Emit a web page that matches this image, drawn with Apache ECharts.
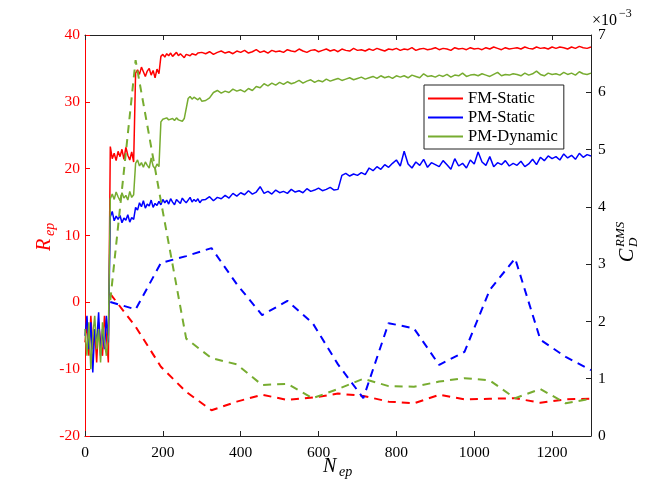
<!DOCTYPE html>
<html><head><meta charset="utf-8">
<script src="https://cdn.jsdelivr.net/npm/echarts@6/dist/echarts.min.js"></script>
<style>html,body{margin:0;padding:0;background:#fff}#c{width:654px;height:491px}</style>
</head><body><div id="c"></div>
<script>
// Episode numbers for the reward curves
const episodes = [
  0,5,10,15,20,25,30,35,40,45,50,55,60,
  65,70,75,80,85,90,95,100,105,110,115,120,125,
  130,135,140,145,150,155,160,165,170,175,180,185,190,
  195,200,205,210,215,220,225,230,235,240,245,250,255,260,265,270,275,280,285,290,295,300,
  310,320,330,340,350,360,370,380,390,400,
  410,420,430,440,450,460,470,480,490,500,
  510,520,530,540,550,560,570,580,590,600,
  610,620,630,640,650,660,670,680,690,700,
  710,720,730,740,750,760,770,780,790,800,
  810,820,830,840,850,860,870,880,890,900,
  910,920,930,940,950,960,970,980,990,1000,
  1010,1020,1030,1040,1050,1060,1070,1080,1090,1100,
  1110,1120,1130,1140,1150,1160,1170,1180,1190,1200,
  1210,1220,1230,1240,1250,1260,1270,1280,1290,1300
];
// Reward R_ep
const fmStatic = [
  -6,-3,-8,-2,-7,-4,-9,-3,-6,-8,-2,-5,-9,
  23.3,21.5,22.3,21.2,22.6,21.8,22.9,21.4,23.2,22.0,21.3,22.5,21.0,
  34.3,34.8,34.1,35.2,34.5,33.8,34.6,35.0,34.0,34.7,33.6,34.9,34.2,
  36.8,37.1,36.7,37.2,36.9,37.3,36.8,37.0,37.4,36.9,37.2,37.0,36.6,37.1,37.3,36.9,37.2,37.4,37.0,37.3,37.1,37.4,
  37.2,37.5,37.1,37.4,37.6,37.3,37.5,37.2,37.6,37.4,
  37.7,37.3,37.5,37.8,37.4,37.6,37.3,37.7,37.5,37.6,
  37.4,37.8,37.6,37.5,37.9,37.6,37.4,37.7,37.8,37.5,
  37.7,37.9,37.6,37.8,37.5,37.9,37.7,37.6,38.0,37.7,
  37.8,37.6,37.9,37.7,38.0,37.8,37.6,37.9,37.8,38.0,
  37.7,37.9,37.8,38.1,37.7,37.9,38.0,37.8,37.9,38.1,
  37.8,38.0,37.9,37.7,38.1,37.9,38.0,37.8,38.1,37.9,
  38.0,37.8,38.1,37.9,38.2,38.0,37.8,38.1,37.9,38.0,
  38.1,37.9,38.2,38.0,37.9,38.2,38.0,38.1,37.9,38.2,
  38.0,38.2,38.1,37.9,38.2,38.0,38.3,38.1,38.0,38.2
];
const pmStatic = [
  -5,-2,-7,-3,-10.5,-4,-6,-1.5,-8,-4,-7,-2,-6,
  12.8,13.6,12.2,12.9,12.4,13.0,11.9,12.6,12.3,13.1,12.0,12.7,12.4,
  14.2,13.8,14.9,14.3,15.2,14.1,14.7,14.4,15.3,14.2,14.8,14.5,15.1,
  14.6,15.4,14.9,15.3,14.7,15.5,15.0,14.6,15.4,15.1,14.8,15.6,15.2,14.9,15.3,15.7,15.0,15.4,15.1,15.5,14.9,15.3,
  15.4,15.8,15.2,15.7,15.5,16.0,15.6,16.3,15.9,16.4,
  16.1,16.7,16.2,16.5,17.3,16.3,16.6,16.2,16.8,16.4,
  16.6,16.3,16.9,16.5,16.7,16.4,17.0,16.6,16.8,17.1,
  16.7,16.9,17.2,16.8,16.9,19.0,19.3,18.9,19.2,19.0,
  19.4,19.1,20.1,19.7,20.3,19.9,20.6,20.2,20.8,21.3,
  20.4,22.6,20.7,20.1,21.0,20.5,21.4,20.2,20.9,20.6,
  20.3,21.2,20.6,19.9,21.5,20.4,20.8,20.1,21.3,20.7,
  22.5,21.0,20.5,21.8,20.3,20.9,20.6,21.2,20.4,20.8,
  20.5,21.1,20.3,20.7,21.4,20.6,21.7,21.2,21.9,21.5,
  21.8,21.3,22.2,21.6,22.0,21.4,22.3,21.7,22.1,21.9
];
const pmDynamic = [
  -4,-8,-3,-10,-5,-2,-7,-4,-9,-3,-6,-8,-5,
  15.5,16.2,15.4,16.5,15.8,15.2,16.4,15.6,16.0,15.3,16.6,15.7,16.1,
  20.8,21.3,20.4,20.9,20.2,21.0,20.5,20.1,21.6,20.4,20.0,20.7,20.3,
  27.0,27.4,27.2,27.6,27.3,27.1,27.5,27.2,27.6,27.3,27.4,27.1,27.5,27.4,
  30.5,30.8,30.4,30.7,30.5,30.3,30.6,30.1,
  30.2,30.6,31.4,31.7,31.3,31.6,31.4,31.9,31.6,31.8,
  31.5,32.0,31.7,32.3,32.1,32.7,32.4,32.8,32.5,32.9,
  32.6,33.0,32.7,32.9,33.2,32.8,33.1,33.3,32.9,33.2,
  33.0,33.4,33.1,33.3,33.5,33.2,33.4,33.6,33.3,33.5,
  33.7,33.4,33.6,33.8,33.5,33.9,33.6,33.8,33.5,33.9,
  33.7,33.9,33.6,34.0,33.8,33.6,34.2,33.8,33.9,33.7,
  34.0,33.8,34.1,33.7,34.0,33.9,34.3,33.8,34.0,34.1,
  33.9,34.2,34.0,33.8,34.1,34.4,33.9,34.1,34.0,34.2,
  34.1,33.9,34.3,34.0,34.2,34.6,34.1,33.9,34.3,34.1,
  34.2,34.0,34.4,34.1,34.3,34.0,34.5,34.2,34.1,34.3
];
// Drag coefficient C_D^RMS (x 1e-3)
const cdEpisodes = [65,130,195,260,325,390,455,520,585,650,715,780,845,910,975,1040,1105,1170,1235,1300];
const cdFmStatic  = [2.48,1.91,1.21,0.77,0.45,0.60,0.72,0.63,0.67,0.74,0.70,0.60,0.57,0.72,0.64,0.65,0.66,0.58,0.64,0.65];
const cdPmStatic  = [2.34,2.21,3.02,3.14,3.28,2.65,2.11,2.36,1.97,1.25,0.66,1.97,1.88,1.24,1.47,2.55,3.10,1.68,1.38,1.15];
const cdPmDynamic = [2.37,6.56,4.10,1.70,1.36,1.25,0.89,0.91,0.66,0.82,1.00,0.87,0.86,0.95,1.01,0.97,0.66,0.82,0.57,0.65];
const xTicks = [0,200,400,600,800,1000,1200];

const RED = '#ff0000', BLUE = '#0000ff', GREEN = '#77ac30';
const FONT = 'Liberation Serif';
const pair = (xs, ys) => ys.map((v, i) => [xs[i], v]);

const chart = echarts.init(document.getElementById('c'), null, {renderer: 'canvas'});

function solid(name, data, color) {
  return {name, type: 'line', xAxisIndex: 0, yAxisIndex: 0, data: pair(episodes, data),
    symbol: 'none', showSymbol: false, lineStyle: {color, width: 1.5}, itemStyle: {color}, z: 2};
}
function dashed(name, data, color) {
  return {name, type: 'line', xAxisIndex: 0, yAxisIndex: 1, data: pair(cdEpisodes, data),
    symbol: 'none', showSymbol: false, lineStyle: {color, width: 2, type: [8, 6]}, itemStyle: {color}, z: 3};
}

const option = {
  animation: false,
  backgroundColor: '#fff',
  grid: {left: 85, right: 63, top: 35, bottom: 55},
  legend: {
    data: ['FM-Static', 'PM-Static', 'PM-Dynamic'],
    orient: 'vertical', left: 424, top: 85,
    icon: 'rect', itemWidth: 35, itemHeight: 2, itemGap: 2,
    padding: [5, 6, 4, 4],
    borderColor: '#222', borderWidth: 1, backgroundColor: '#fff',
    textStyle: {fontFamily: FONT, fontSize: 16.5, color: '#000'}
  },
  xAxis: [
    {type: 'value', min: 0, max: 1300, interval: 200, position: 'bottom',
     axisLine: {show: true, onZero: false, lineStyle: {color: '#222', width: 1}},
     axisTick: {show: true, inside: true, length: 5, lineStyle: {color: '#222'}},
     axisLabel: {color: '#000', fontFamily: FONT, fontSize: 15.5, margin: 9, showMaxLabel: false,
       formatter: v => xTicks.includes(v) ? String(v) : ''},
     splitLine: {show: false}},
    {type: 'value', min: 0, max: 1300, interval: 200, position: 'top',
     axisLine: {show: true, onZero: false, lineStyle: {color: '#222', width: 1}},
     axisTick: {show: true, inside: true, length: 5, lineStyle: {color: '#222'}},
     axisLabel: {show: false}, splitLine: {show: false}}
  ],
  yAxis: [
    {type: 'value', min: -20, max: 40, interval: 10, position: 'left',
     axisLine: {show: true, onZero: false, lineStyle: {color: RED, width: 1}},
     axisTick: {show: true, inside: true, length: 5, lineStyle: {color: RED}},
     axisLabel: {color: RED, fontFamily: FONT, fontSize: 15.5, margin: 5},
     splitLine: {show: false}},
    {type: 'value', min: 0, max: 7, interval: 1, position: 'right',
     axisLine: {show: true, onZero: false, lineStyle: {color: '#222', width: 1}},
     axisTick: {show: true, inside: true, length: 5, lineStyle: {color: '#222'}},
     axisLabel: {color: '#000', fontFamily: FONT, fontSize: 15.5, margin: 7},
     splitLine: {show: false}}
  ],
  graphic: [
    {type: 'group', x: 45, y: 236, rotation: Math.PI / 2, children: [
      {type: 'text', x: -15, y: 0, style: {text: 'R', fontFamily: FONT, fontStyle: 'italic', fontSize: 20, fill: RED, align: 'left', verticalAlign: 'middle'}},
      {type: 'text', x: 0, y: 5, style: {text: 'ep', fontFamily: FONT, fontStyle: 'italic', fontSize: 14, fill: RED, align: 'left', verticalAlign: 'middle'}}
    ]},
    {type: 'group', x: 338, y: 467, children: [
      {type: 'text', x: -15, y: 0, style: {text: 'N', fontFamily: FONT, fontStyle: 'italic', fontSize: 20, fill: '#000', align: 'left', verticalAlign: 'middle'}},
      {type: 'text', x: 1, y: 5, style: {text: 'ep', fontFamily: FONT, fontStyle: 'italic', fontSize: 14, fill: '#000', align: 'left', verticalAlign: 'middle'}}
    ]},
    {type: 'group', x: 628, y: 238, rotation: Math.PI / 2, children: [
      {type: 'text', x: -24, y: 0, style: {text: 'C', fontFamily: FONT, fontStyle: 'italic', fontSize: 20, fill: '#000', align: 'left', verticalAlign: 'middle'}},
      {type: 'text', x: -9, y: -7, style: {text: 'RMS', fontFamily: FONT, fontStyle: 'italic', fontSize: 13, fill: '#000', align: 'left', verticalAlign: 'middle'}},
      {type: 'text', x: -9, y: 6, style: {text: 'D', fontFamily: FONT, fontStyle: 'italic', fontSize: 13, fill: '#000', align: 'left', verticalAlign: 'middle'}}
    ]},
    {type: 'text', x: 592, y: 21, style: {text: '×10', fontFamily: FONT, fontSize: 16, fill: '#000', align: 'left', verticalAlign: 'middle'}},
    {type: 'text', x: 619, y: 14, style: {text: '−3', fontFamily: FONT, fontSize: 12, fill: '#000', align: 'left', verticalAlign: 'middle'}}
  ],
  series: [
    solid('FM-Static', fmStatic, RED),
    solid('PM-Static', pmStatic, BLUE),
    solid('PM-Dynamic', pmDynamic, GREEN),
    dashed('FM-Static C_D', cdFmStatic, RED),
    dashed('PM-Static C_D', cdPmStatic, BLUE),
    dashed('PM-Dynamic C_D', cdPmDynamic, GREEN)
  ]
};
chart.setOption(option);
</script>
</body></html>
